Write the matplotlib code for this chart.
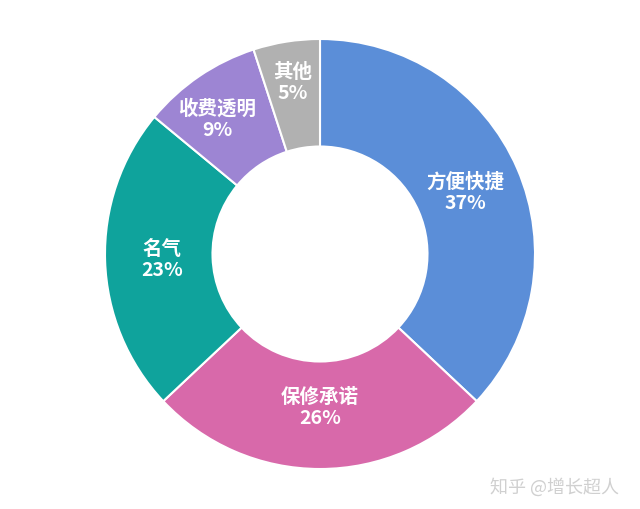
import matplotlib
matplotlib.use('Agg')
import numpy as np
from matplotlib import pyplot as plt

plt.rcParams['font.family'] = ['Noto Sans CJK SC', 'DejaVu Sans']

labels = ['方便快捷', '保修承诺', '名气', '收费透明', '其他']
shares = [37, 26, 23, 9, 5]
colors = ['#5b8ed8', '#d869aa', '#0fa39c', '#9d85d3', '#b1b1b1']

fig = plt.figure(figsize=(6.4, 5.1), dpi=100)
ax = fig.add_axes([105 / 640, 40 / 510, 430 / 640, 430 / 510])

wedges, texts = ax.pie(
    shares,
    colors=colors,
    startangle=90,
    counterclock=False,
    radius=1.0,
    wedgeprops=dict(width=0.5, edgecolor='white', linewidth=1.5),
)

# small slices get their labels pushed a bit outward
label_r = [0.735, 0.71, 0.735, 0.79, 0.81]
label_shift = [0, 0, 0, 3, 0]  # degrees
for w, name, val, r, sh in zip(wedges, labels, shares, label_r, label_shift):
    ang = np.deg2rad((w.theta1 + w.theta2) / 2 + sh)
    ax.text(r * np.cos(ang), r * np.sin(ang), '%s\n%d%%' % (name, val),
            ha='center', va='center', color='white', fontsize=14,
            fontweight=600, linespacing=1.15)

ax.set_xlim(-1, 1)
ax.set_ylim(-1, 1)
ax.set_aspect('equal')
ax.axis('off')

fig.text(554 / 640, 1 - 487 / 510, '知乎 @增长超人', ha='center', va='center',
         fontsize=13, color='#d0d0d0')

fig.savefig('out.png', dpi=100)
